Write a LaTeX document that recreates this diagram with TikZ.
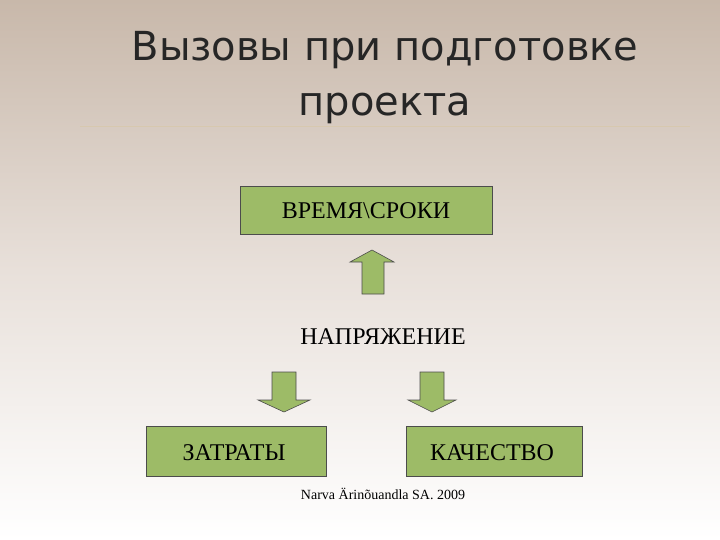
\documentclass[tikz,border=0pt]{standalone}
\usepackage{fontspec}
\setmainfont{Liberation Serif}
\newfontfamily\titlefont{DejaVu Sans}
\begin{document}
\begin{tikzpicture}[x=1pt,y=-1pt,
  box/.style={draw=black!70,fill=grn,line width=0.8pt,inner sep=0pt},
  arr/.style={draw=black!70,fill=grn,line width=0.6pt},
  lbl/.style={font=\fontsize{24}{28}\selectfont}]
\definecolor{grn}{HTML}{9DBB67}
\useasboundingbox (0,0) rectangle (720,540);
\shade[top color={rgb,255:red,200;green,184;blue,170},bottom color=white,middle color={rgb,255:red,232;green,224;blue,218}] (0,0) rectangle (720,540);
\node[font=\titlefont\fontsize{40}{55}\selectfont,align=center,text=black!85] (title) at (385,78) {Вызовы при подготовке\\проекта};
\draw[color={rgb,255:red,215;green,200;blue,175},line width=0.6pt] (80,126) coordinate (l1) -- (690,126) coordinate (l2);
\draw[box] (240,186) rectangle (492,234);
\node[lbl] (t) at (366,211) {ВРЕМЯ\textbackslash СРОКИ};
\draw[box] (146,426) rectangle (326,476);
\node[lbl] (c) at (234,453) {ЗАТРАТЫ};
\draw[box] (406,426) rectangle (582,476);
\node[lbl] (q) at (492,453) {КАЧЕСТВО};
\node[lbl] (n) at (383,337) {НАПРЯЖЕНИЕ};
\draw[arr] (372,250) -- (394,262) -- (384,262) -- (384,294) -- (362,294) -- (362,262) -- (350,262) -- cycle;
\draw[arr] (284,412) -- (310,400) -- (296,400) -- (296,372) -- (272,372) -- (272,400) -- (258,400) -- cycle;
\draw[arr] (432,412) -- (456,400) -- (444,400) -- (444,372) -- (420,372) -- (420,400) -- (408,400) -- cycle;
\node[font=\fontsize{14}{16}\selectfont] (f) at (383,494) {Narva Ärinõuandla SA. 2009};
\end{tikzpicture}
\end{document}
